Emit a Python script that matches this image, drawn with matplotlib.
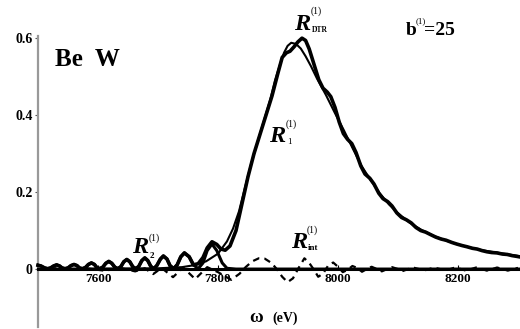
import matplotlib
matplotlib.use("Agg")
import matplotlib.pyplot as plt

# ---------------- data ----------------
r2_omega = [7500, 7505, 7511, 7516, 7521, 7526, 7531, 7536, 7540, 7545,
            7550, 7555, 7560, 7565, 7569, 7574, 7579, 7584, 7589, 7594, 7598, 7603,
            7608, 7613, 7618, 7623, 7628, 7633, 7638, 7643, 7648, 7653, 7658, 7663,
            7668, 7673, 7678, 7683, 7688, 7693, 7698, 7704, 7709, 7715, 7720, 7726,
            7732, 7738, 7744, 7752, 7759, 7767, 7775, 7782, 7790, 7798, 7807, 7815,
            7830, 8305]
r2_value = [0.010, 0.008, 0.003, 0.001, 0.003, 0.008, 0.011, 0.008, 0.003, 0.001,
            0.003, 0.009, 0.012, 0.009, 0.003, 0.001, 0.004, 0.012, 0.016, 0.012, 0.004, 0.001,
            0.005, 0.015, 0.020, 0.015, 0.005, 0.001, 0.006, 0.019, 0.025, 0.019, 0.006, 0.001,
            0.007, 0.022, 0.029, 0.022, 0.007, 0.001, 0.009, 0.026, 0.034, 0.026, 0.009, 0.001,
            0.011, 0.032, 0.042, 0.032, 0.011, 0.001, 0.016, 0.048, 0.065, 0.048, 0.016, 0.002,
            0.0, 0.0]

dtr_omega_high = [7767, 7775, 7782, 7790, 7798, 7805, 7812, 7820, 7830, 7840, 7850, 7860,
                  7870, 7880, 7890, 7900, 7907, 7914, 7920, 7927, 7933, 7940, 7946, 7952,
                  7960, 7968, 7975, 7982, 7988, 7995, 8002, 8009, 8016, 8023, 8030, 8038,
                  8045, 8053, 8060, 8068, 8075, 8083, 8090, 8098, 8106, 8114, 8122, 8130,
                  8138, 8146, 8155, 8163, 8172, 8180, 8190, 8198, 8207, 8215, 8224, 8232,
                  8240, 8248, 8256, 8265, 8274, 8282, 8290, 8298, 8305]
dtr_value_high = [0.014, 0.030, 0.055, 0.071, 0.064, 0.052, 0.049, 0.060, 0.100, 0.170, 0.240, 0.300,
                  0.350, 0.400, 0.450, 0.510, 0.550, 0.562, 0.566, 0.578, 0.590, 0.600, 0.594, 0.572,
                  0.532, 0.492, 0.470, 0.460, 0.448, 0.420, 0.382, 0.352, 0.337, 0.326, 0.303, 0.268,
                  0.247, 0.236, 0.221, 0.197, 0.183, 0.175, 0.164, 0.146, 0.134, 0.128, 0.120, 0.108,
                  0.100, 0.096, 0.089, 0.083, 0.078, 0.075, 0.069, 0.065, 0.061, 0.058, 0.054, 0.052,
                  0.048, 0.045, 0.043, 0.042, 0.039, 0.038, 0.035, 0.033, 0.031]

r1_omega = [7500, 7700, 7740, 7760, 7780, 7800, 7815, 7825, 7835, 7845, 7855, 7865, 7875,
            7887, 7895, 7903, 7910, 7916, 7922, 7930, 7938, 7946, 7955, 7965, 7980, 7995,
            8010, 8025, 8040, 8055, 8070, 8085, 8100, 8120, 8140, 8160, 8180, 8200, 8220,
            8240, 8260, 8280, 8305]
r1_value = [0.001, 0.002, 0.005, 0.010, 0.020, 0.040, 0.072, 0.105, 0.150, 0.212, 0.272, 0.325, 0.378,
            0.440, 0.490, 0.530, 0.562, 0.580, 0.588, 0.585, 0.573, 0.553, 0.527, 0.495, 0.452, 0.405,
            0.360, 0.312, 0.266, 0.230, 0.196, 0.168, 0.145, 0.120, 0.101, 0.086, 0.074, 0.064, 0.056,
            0.049, 0.044, 0.039, 0.033]

rint_omega = [7500, 7530, 7550, 7580, 7610, 7640, 7662, 7678, 7692, 7706, 7725, 7742, 7762,
              7782, 7800, 7822, 7836, 7846, 7857, 7868, 7878, 7889, 7898, 7907, 7916, 7925,
              7934, 7944, 7952, 7960, 7967, 7975, 7984, 7992, 8000, 8008, 8016, 8024, 8032,
              8040, 8048, 8056, 8065, 8073, 8082, 8090, 8100, 8108, 8117, 8125, 8135, 8143,
              8152, 8160, 8170, 8178, 8187, 8195, 8205, 8213, 8222, 8230, 8240, 8248, 8257,
              8265, 8275, 8283, 8292, 8300]
rint_value = [0.0, 0.002, -0.002, 0.002, -0.004, 0.002, -0.006, 0.002, -0.013, 0.003, -0.021, 0.004, -0.026,
              0.005, -0.008, -0.028, -0.012, 0.005, 0.020, 0.028, 0.027, 0.016, 0.0, -0.020, -0.034, -0.024,
              0.002, 0.028, 0.016, -0.002, -0.020, -0.012, 0.010, 0.017, 0.006, -0.008, -0.002, 0.008, 0.003,
              -0.007, 0.0, 0.006, 0.0, -0.006, 0.0, 0.005, 0.0, -0.005, 0.0, 0.004, 0.0, -0.004,
              0.0, 0.004, 0.0, -0.004, 0.0, 0.004, 0.0, -0.004, 0.0, 0.004, 0.0, -0.004, 0.0,
              0.004, 0.0, -0.004, 0.0, 0.003]

x_ticks = [7600, 7800, 8000, 8200]
x_tick_labels = ["7600", "7800", "8000", "8200"]
y_ticks = [0, 0.2, 0.4, 0.6]
y_tick_labels = ["0", "0.2", "0.4", "0.6"]

# DTR curve at low energies coincides with R2
k = r2_omega.index(7767)
dtr_omega = r2_omega[:k] + dtr_omega_high
dtr_value = r2_value[:k] + dtr_value_high

# ---------------- figure ----------------
W, H = 520, 329
fig = plt.figure(figsize=(W / 100, H / 100), dpi=100)
ax = fig.add_axes([38 / W, 0.0067, 483 / W, 0.889])
ax.set_xlim(7500, 8305)
ax.set_ylim(-0.15, 0.61)

serif = "Liberation Serif"

ax.plot(rint_omega, rint_value, color="black", lw=1.6, linestyle=(0, (3.0, 2.3)), clip_on=False, zorder=3)
ax.plot(r1_omega, r1_value, color="black", lw=1.5, clip_on=False, zorder=4)
ax.plot(r2_omega, r2_value, color="black", lw=2.2, clip_on=False, zorder=5)
ax.plot(dtr_omega, dtr_value, color="black", lw=2.6, clip_on=False, zorder=6)

for s in ["top", "right"]:
    ax.spines[s].set_visible(False)
ax.spines["bottom"].set_position(("data", 0))
ax.spines["bottom"].set_color("black")
ax.spines["bottom"].set_linewidth(2.2)
ax.spines["left"].set_color("#999999")
ax.spines["left"].set_linewidth(1.6)
ax.spines["left"].set_bounds(-0.15, 0.605)

ax.set_xticks(x_ticks)
ax.set_xticklabels(x_tick_labels, fontfamily=serif, fontweight="bold", fontsize=9.5)
ax.set_yticks(y_ticks)
ax.set_yticklabels(y_tick_labels, fontfamily=serif, fontweight="bold", fontsize=10)
ax.tick_params(axis="x", direction="in", length=3, width=0.8, pad=3, colors="black")
ax.tick_params(axis="y", direction="out", length=2.5, width=0.8, pad=1.5, color="#555555")


def P(x, y):
    return x / W, 1 - y / H


def t(x, y, s, size, style="normal", weight="bold"):
    fig.text(*P(x, y), s, fontsize=size, fontfamily=serif, fontstyle=style,
             fontweight=weight, va="baseline", ha="left")


# panel label
t(55, 66, "Be  W", 18)
# b^(1)=25
t(406, 35, "b", 14)
t(416, 23, "(1)", 6.5, weight="normal")
t(424, 35, "=25", 14)
# R_DTR
t(294, 30, "R", 17.5, style="italic")
t(311, 14, "(1)", 7, weight="normal")
t(312, 32, "DTR", 5.5)
# R_1
t(269, 142, "R", 17.5, style="italic")
t(286, 127, "(1)", 7, weight="normal")
t(287, 144, "1", 6.5, weight="normal")
# R_2
t(132, 253, "R", 17.5, style="italic")
t(149, 241, "(1)", 7, weight="normal")
t(150, 258, "2", 6.5)
# R_int
t(291, 248, "R", 17.5, style="italic")
t(307, 233, "(1)", 7, weight="normal")
t(308, 250, "int", 6.5)
# x label
t(249, 322, "ω", 13.5)
t(272, 322, "(eV)", 10)

fig.savefig("out.png", dpi=100)
